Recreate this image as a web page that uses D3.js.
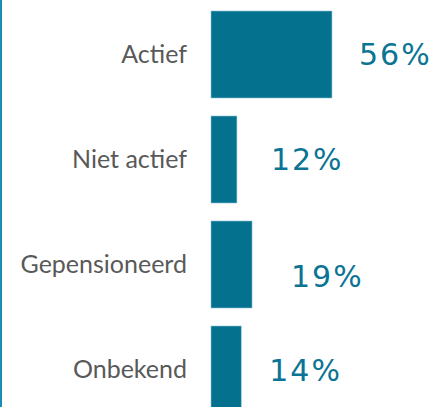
<!DOCTYPE html>
<html>
<head>
<meta charset="utf-8">
<script src="https://cdn.jsdelivr.net/npm/d3@7"></script>
<style>
  html, body { margin: 0; padding: 0; background: #fff; }
  svg { display: block; }
</style>
</head>
<body>
<svg id="chart" width="441" height="407"></svg>
<script>
// categories and values (percent)
var categories = ["Actief", "Niet actief", "Gepensioneerd", "Onbekend"];
var values = [56, 12, 19, 14];

// hand placed value labels in the original (dx from bar end, dy from bar centre)
var labelNudge = [[27, 0], [34, 0], [39, 12], [28, 1]];

var svg = d3.select("#chart");
var W = 441, H = 407;

var barColor = "#04718f";
var textGrey = "#595959";

var x = d3.scaleLinear().domain([0, 100]).range([211, 427]);
var y = d3.scaleBand()
  .domain(categories)
  .range([11, 413])
  .paddingInner(18 / 105)
  .paddingOuter(0);

// left frame line
svg.append("line")
  .attr("x1", 1).attr("x2", 1)
  .attr("y1", 0).attr("y2", H)
  .attr("stroke", "#1b8db2")
  .attr("stroke-width", 2);

var rows = svg.selectAll(".row")
  .data(categories.map(function(c, i) { return { cat: c, val: values[i], i: i }; }))
  .enter().append("g").classed("row", true);

rows.append("rect")
  .attr("x", x(0))
  .attr("y", function(d) { return y(d.cat); })
  .attr("width", function(d) { return x(d.val) - x(0); })
  .attr("height", y.bandwidth())
  .attr("fill", barColor)
  .attr("stroke", "#8fc3d3")
  .attr("stroke-width", 0.6);

// category labels
rows.append("text")
  .attr("x", 187)
  .attr("y", function(d) { return y(d.cat) + y.bandwidth() / 2; })
  .attr("dy", "0.35em")
  .attr("text-anchor", "end")
  .attr("font-family", "Lato, 'Open Sans', sans-serif")
  .attr("font-size", 25)
  .attr("fill", textGrey)
  .text(function(d) { return d.cat; });

// value labels
rows.append("text")
  .attr("x", function(d) { return x(d.val) + labelNudge[d.i][0]; })
  .attr("y", function(d) { return y(d.cat) + y.bandwidth() / 2 + labelNudge[d.i][1]; })
  .attr("dy", "0.36em")
  .attr("font-family", "'DejaVu Sans', sans-serif")
  .attr("font-weight", 400)
  .attr("font-size", 30)
  .attr("letter-spacing", 2)
  .attr("fill", "#0b7394")
  .text(function(d) { return d.val + "%"; });
</script>
</body>
</html>
